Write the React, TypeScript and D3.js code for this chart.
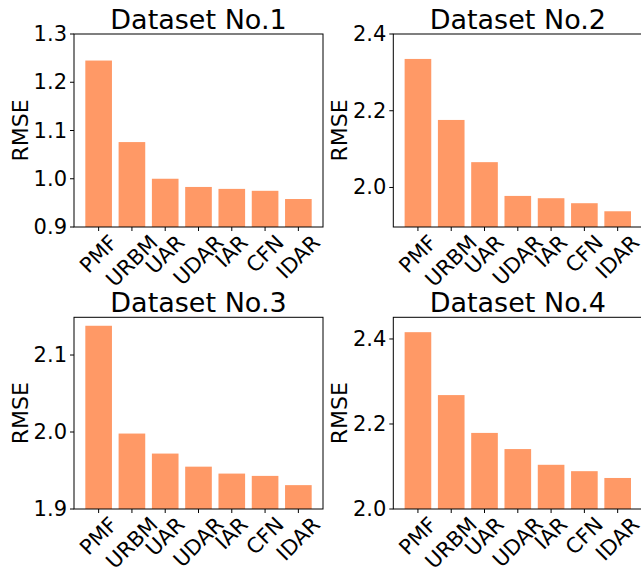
import React, {useEffect, useRef} from 'react';
import * as d3 from 'd3';

// methods shown on every panel (x axis)
const methods = ['PMF', 'URBM', 'UAR', 'UDAR', 'IAR', 'CFN', 'IDAR'];

// RMSE per dataset
const dataset1 = [1.245, 1.076, 1.0, 0.983, 0.979, 0.975, 0.958];
const dataset2 = [2.335, 2.176, 2.066, 1.978, 1.972, 1.959, 1.938];
const dataset3 = [2.138, 1.998, 1.972, 1.955, 1.946, 1.943, 1.931];
const dataset4 = [2.416, 2.268, 2.179, 2.141, 2.104, 2.089, 2.073];

// y limits and ticks of each panel
const ylims: [number, number][] = [
  [0.9, 1.3],
  [1.897, 2.4],
  [1.9, 2.149],
  [2.0, 2.451],
];
const yticks = [
  [0.9, 1.0, 1.1, 1.2, 1.3],
  [2.0, 2.2, 2.4],
  [1.9, 2.0, 2.1],
  [2.0, 2.2, 2.4],
];
const titles = ['Dataset No.1', 'Dataset No.2', 'Dataset No.3', 'Dataset No.4'];
const series = [dataset1, dataset2, dataset3, dataset4];

const W = 641;
const H = 570;
const BAR = '#ff9966';
const FONT = 'DejaVu Sans, sans-serif';

// axes boxes [left, top, width, height]
const boxes = [
  [74, 34, 249, 193],
  [393.3, 34, 249, 193],
  [74, 317.3, 249, 191.7],
  [393.3, 317.3, 249, 191.7],
];

export default function App() {
  const svgRef = useRef<SVGSVGElement>(null);

  useEffect(() => {
    document.body.style.margin = '0';
    if (!svgRef.current) return;
    const svg = d3.select(svgRef.current);
    svg.selectAll('*').remove();

    series.forEach((values, i) => {
      const [left, top, w, h] = boxes[i];
      const g = svg.append('g');

      const x = d3
        .scaleBand<string>()
        .domain(methods)
        .range([left, left + w])
        .paddingInner(0.2)
        .paddingOuter(0.34);
      const y = d3.scaleLinear().domain(ylims[i]).range([top + h, top]);

      // bars
      g.append('g')
        .selectAll('rect')
        .data(values)
        .join('rect')
        .attr('x', (_, j) => x(methods[j])!)
        .attr('width', x.bandwidth())
        .attr('y', (d) => y(d))
        .attr('height', (d) => y(ylims[i][0]) - y(d))
        .attr('fill', BAR);

      // frame
      g.append('rect')
        .attr('x', left)
        .attr('y', top)
        .attr('width', w)
        .attr('height', h)
        .attr('fill', 'none')
        .attr('stroke', '#000')
        .attr('stroke-width', 1);

      // y ticks
      const yt = g.append('g');
      yticks[i].forEach((t) => {
        yt.append('line')
          .attr('x1', left - 4)
          .attr('x2', left)
          .attr('y1', y(t))
          .attr('y2', y(t))
          .attr('stroke', '#000');
        yt.append('text')
          .attr('x', left - 7)
          .attr('y', y(t))
          .attr('text-anchor', 'end')
          .attr('dominant-baseline', 'central')
          .style('font', `21px ${FONT}`)
          .attr('fill', '#000')
          .text(d3.format('.1f')(t));
      });

      // x ticks with rotated labels
      const xt = g.append('g');
      methods.forEach((m) => {
        const cx = x(m)! + x.bandwidth() / 2;
        xt.append('line')
          .attr('x1', cx)
          .attr('x2', cx)
          .attr('y1', top + h)
          .attr('y2', top + h + 4)
          .attr('stroke', '#000');
        const label = xt
          .append('text')
          .attr('text-anchor', 'middle')
          .attr('dominant-baseline', 'central')
          .style('font', `21px ${FONT}`)
          .attr('fill', '#000')
          .text(m);
        const bb = (label.node() as SVGTextElement).getBBox();
        const side = ((bb.width + 21 * 0.8) * Math.SQRT2) / 2;
        label.attr(
          'transform',
          `translate(${cx},${top + h + 6 + side / 2}) rotate(-45)`,
        );
      });

      // title
      g.append('text')
        .attr('x', left + w / 2)
        .attr('y', top - 5)
        .attr('text-anchor', 'middle')
        .style('font', `27px ${FONT}`)
        .attr('fill', '#000')
        .text(titles[i]);

      // y label
      g.append('text')
        .attr(
          'transform',
          `translate(${left - 46},${top + h / 2}) rotate(-90)`,
        )
        .attr('text-anchor', 'middle')
        .style('font', `22px ${FONT}`)
        .attr('fill', '#000')
        .text('RMSE');
    });
  }, []);

  return (
    <svg
      ref={svgRef}
      width={W}
      height={H}
      style={{display: 'block', background: '#fff'}}
    />
  );
}
